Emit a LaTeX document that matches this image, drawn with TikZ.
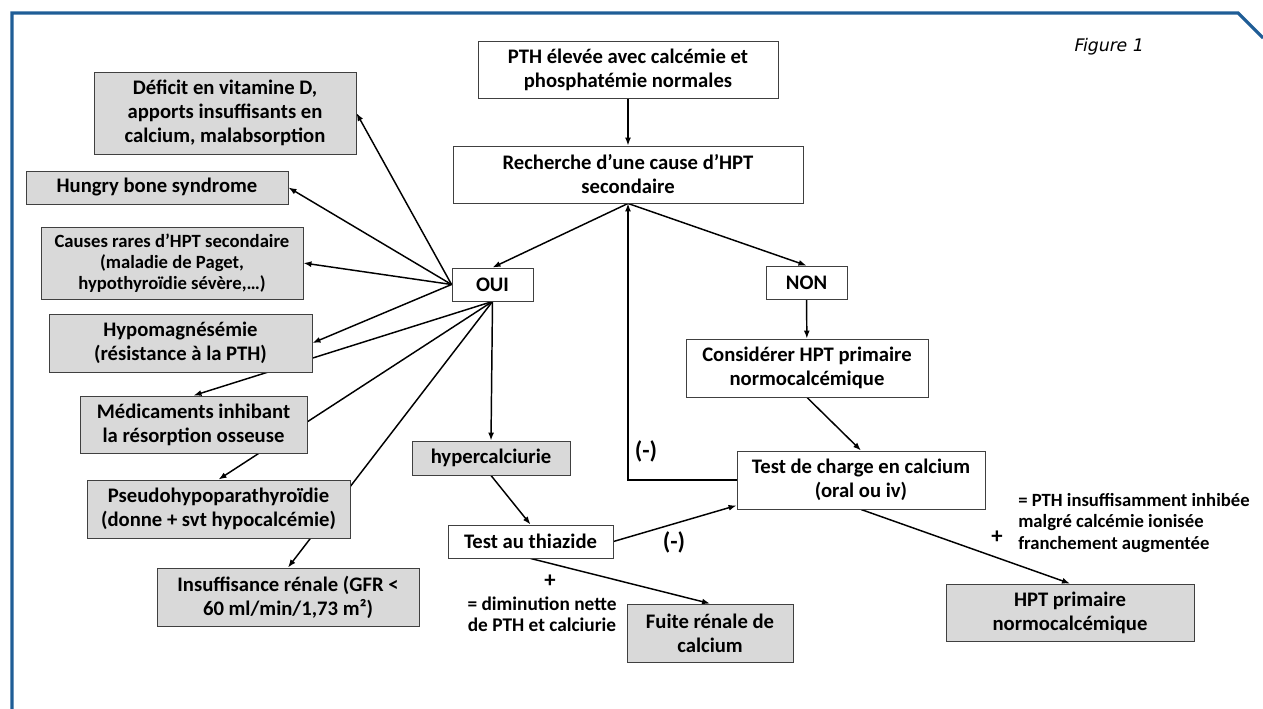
\documentclass[tikz,border=0pt]{standalone}
\usepackage{fontspec}
\setmainfont{Carlito}
\newfontfamily\figfont{DejaVu Sans}[FakeSlant=0.2]
\usetikzlibrary{arrows.meta,backgrounds}
\definecolor{framblue}{RGB}{31,93,150}
\definecolor{boxgray}{RGB}{217,217,217}
\tikzset{
  every node/.style = {font=\bfseries\fontsize{15.5}{18}\selectfont},
  sz/.style 2 args = {minimum width=#1*0.75pt, minimum height=#2*0.75pt},
}

\begin{document}
\begin{tikzpicture}[
    x=0.75pt, y=-0.75pt,
    box/.style={draw=black!75, line width=0.7pt, fill=white, align=center, inner sep=0pt},
    grey/.style={box, fill=boxgray},
    small/.style={font=\bfseries\fontsize{14}{15.8}\selectfont},
    note/.style={font=\bfseries\fontsize{14}{15.8}\selectfont, inner sep=0pt},
    arr/.style={-{Latex[length=6pt,width=4.5pt]}, line width=1.1pt},
    ]
    \useasboundingbox (0,0) rectangle (1263,709);
    \draw[framblue, line width=2.4pt] (12,709) -- (12,13) -- (1238,13) -- (1263,38);
    \node[font=\figfont\fontsize{13}{15}\selectfont] (fig) at (1108,47) {Figure 1};

    \node[box, sz={300}{57}] (pth) at (628,69.5) {PTH élevée avec calcémie et\\phosphatémie normales};
    \node[box, sz={350}{57}] (rech) at (628,174.5) {Recherche d’une cause d’HPT\\secondaire};
    \node[box, sz={81}{33}] (oui) at (492.5,284.5) {OUI};
    \node[box, sz={81}{33}] (non) at (806.5,282.5) {NON};
    \node[box, sz={242}{58}] (cons) at (807,368) {Considérer HPT primaire\\normocalcémique};
    \node[box, sz={248}{58}] (charge) at (861,480) {Test de charge en calcium\\(oral ou iv)};
    \node[grey, sz={158}{34}] (hyperc) at (491,458) {hypercalciurie};
    \node[box, sz={165}{33}] (thiaz) at (530.5,541.5) {Test au thiazide};
    \node[grey, sz={166}{58}] (fuite) at (710,633) {Fuite rénale de\\calcium};
    \node[grey, sz={248}{57}] (hptn) at (1070,612.5) {HPT primaire\\normocalcémique};

    \node[grey, sz={262}{82}] (defic) at (225,113) {Déficit en vitamine D,\\apports insuffisants en\\calcium, malabsorption};
    \node[grey, sz={262}{33}] (hungry) at (157,187.5) {Hungry bone syndrome};
    \node[grey, small, sz={262}{72}] (rares) at (172,263) {Causes rares d’HPT secondaire\\(maladie de Paget,\\hypothyroïdie sévère,…)};
    \node[grey, sz={263}{58}] (hypomag) at (180.5,343) {Hypomagnésémie\\(résistance à la PTH)};
    \node[grey, sz={227}{57}] (medic) at (193.5,424.5) {Médicaments inhibant\\la résorption osseuse};
    \node[grey, sz={263}{58}] (pseudo) at (218.5,509) {Pseudohypoparathyroïdie\\(donne + svt hypocalcémie)};
    \node[grey, sz={262}{58}] (insuf) at (288,597) {Insuffisance rénale (GFR <\\60 ml/min/1,73 m²)};

    \node[font=\bfseries\fontsize{18}{20}\selectfont] (moins1) at (646,451) {(-)};
    \node[font=\bfseries\fontsize{18}{20}\selectfont] (moins2) at (674,542) {(-)};
    \node[font=\bfseries\fontsize{17}{18}\selectfont] (plus1) at (550,581) {+};
    \node[note, align=center, font=\bfseries\fontsize{14.5}{15.8}\selectfont] (dimin) at (542,614) {= diminution nette\\de PTH et calciurie};
    \node[font=\bfseries\fontsize{17}{18}\selectfont] (plus2) at (997,537) {+};
    \node[note, align=left, anchor=west] (inhib) at (1018,523) {= PTH insuffisamment inhibée\\malgré calcémie ionisée\\franchement augmentée};

    \begin{scope}[on background layer]
    \draw[arr] (pth) -- (rech);
    \draw[arr] (rech.south) -- (oui.north);
    \draw[arr] (rech.south) -- (non.north);
    \draw[arr] (non) -- (cons);
    \draw[arr] (cons.south) -- (charge.north);
    \draw[arr] (charge.west) -| (rech.south);
    \draw[arr] (thiaz.east) -- ([yshift=3pt]charge.south west);
    \draw[arr] (charge.south) -- (hptn.north);
    \draw[arr] (oui.south) -- (hyperc.north);
    \draw[arr] (hyperc.south) -- (thiaz.north);
    \draw[arr] (thiaz.south) -- (fuite.north);
    \draw[arr] (oui.west) -- (defic.east);
    \draw[arr] (oui.west) -- (hungry.east);
    \draw[arr] (oui.west) -- (rares.east);
    \draw[arr] (oui.west) -- (hypomag.east);
    \draw[arr] (oui.south) -- (medic.north);
    \draw[arr] (oui.south) -- (pseudo.north);
    \draw[arr] (oui.south) -- (insuf.north);
    \end{scope}
  \end{tikzpicture}
\end{document}
